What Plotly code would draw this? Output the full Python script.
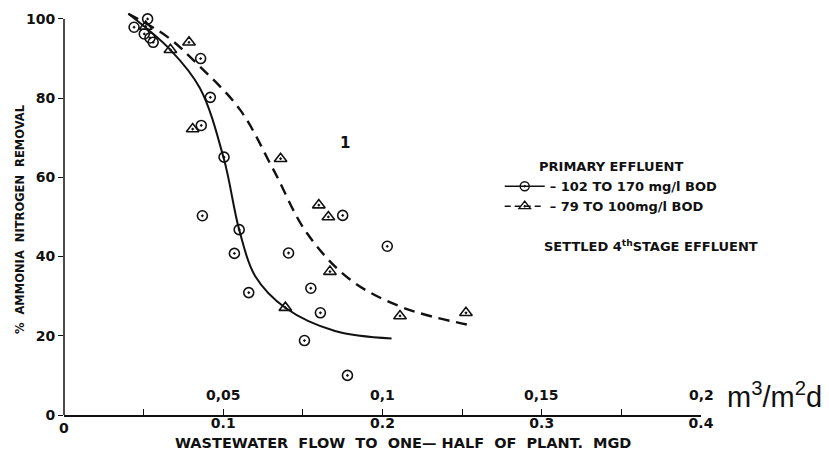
import plotly.graph_objects as go

# ---------------- data ----------------
# Primary effluent 102-170 mg/l BOD (circles)
circ_x = [0.0525, 0.044, 0.0504, 0.054, 0.056, 0.0858, 0.0919, 0.0862, 0.1005,
          0.0869, 0.175, 0.110, 0.107, 0.141, 0.203, 0.116, 0.155, 0.161, 0.151, 0.178]
circ_y = [100.0, 97.9, 96.2, 95.2, 94.1, 90.0, 80.2, 73.1, 65.1,
          50.3, 50.4, 46.8, 40.8, 40.9, 42.6, 30.9, 32.0, 25.8, 18.8, 10.0]

# Primary effluent 79-100 mg/l BOD (triangles)
tri_x = [0.0513, 0.0668, 0.0785, 0.0808, 0.136, 0.160, 0.166, 0.167, 0.139, 0.211, 0.2524]
tri_y = [98.1, 92.2, 94.1, 72.2, 64.7, 53.0, 50.0, 36.2, 27.1, 25.0, 25.8]

# fitted curves
solid_x = [0.0404, 0.0668, 0.0854, 0.1005, 0.110, 0.120, 0.1392, 0.1702, 0.2057]
solid_y = [101.3, 92.2, 82.5, 64.5, 46.8, 35.1, 27.0, 21.2, 19.3]

dash_x = [0.0404, 0.0645, 0.083, 0.1105, 0.1314, 0.1524, 0.1796, 0.213, 0.256]
dash_y = [101.3, 95.6, 88.9, 77.1, 62.0, 46.0, 34.2, 27.1, 22.6]

# axis ticks
x_tick_vals = [0.1, 0.2, 0.3, 0.4]
x_tick_text = ["0.1", "0.2", "0.3", "0.4"]
x_minor_step = 0.05
x_zero_label = "0"
y_tick_vals = [0, 20, 40, 60, 80, 100]
y_tick_text = ["0", "20", "40", "60", "80", "100"]

# secondary scale (m3/m2d) labels placed at MGD positions
m3_pos = [0.1, 0.2, 0.3, 0.4]
m3_text = ["0,05", "0,1", "0,15", "0,2"]

FONT = "DejaVu Sans"
BLACK = "#111111"

fig = go.Figure()

fig.add_trace(go.Scatter(x=solid_x, y=solid_y, mode="lines", line_shape="spline",
                         line=dict(color=BLACK, width=2, smoothing=1.0), showlegend=False,
                         hoverinfo="skip"))
fig.add_trace(go.Scatter(x=dash_x, y=dash_y, mode="lines", line_shape="spline",
                         line=dict(color=BLACK, width=2.4, dash="11px,7px", smoothing=1.0),
                         showlegend=False, hoverinfo="skip"))
fig.add_trace(go.Scatter(x=circ_x, y=circ_y, mode="markers",
                         marker=dict(symbol="circle-open-dot", size=10, color=BLACK,
                                     line=dict(width=1.6, color=BLACK)),
                         showlegend=False))
fig.add_trace(go.Scatter(x=tri_x, y=tri_y, mode="markers",
                         marker=dict(symbol="triangle-up-open-dot", size=11, color=BLACK,
                                     line=dict(width=1.6, color=BLACK)),
                         showlegend=False))

# legend entries
fig.add_trace(go.Scatter(x=[None], y=[None], mode="lines+markers",
                         name="<b>– 102 TO 170 mg/l BOD</b>",
                         line=dict(color=BLACK, width=1.5),
                         marker=dict(symbol="circle-open-dot", size=9, color=BLACK,
                                     line=dict(width=1.4, color=BLACK))))
fig.add_trace(go.Scatter(x=[None], y=[None], mode="lines+markers",
                         name="<b>– 79 TO 100mg/l BOD</b>",
                         line=dict(color=BLACK, width=1.5, dash="6px,4px"),
                         marker=dict(symbol="triangle-up-open-dot", size=10, color=BLACK,
                                     line=dict(width=1.4, color=BLACK))))

annotations = []
for p, t in zip(m3_pos, m3_text):
    annotations.append(dict(x=p, y=5, xref="x", yref="y", text=f"<b>{t}</b>",
                            showarrow=False, xanchor="center", yanchor="middle",
                            font=dict(family=FONT, size=14, color=BLACK)))
annotations += [
    dict(x=1.193, y=0.05, xref="paper", yref="paper",
         text="m<sup>3</sup>/m<sup>2</sup>d", showarrow=False,
         xanchor="right", yanchor="middle",
         font=dict(family="Liberation Sans", size=29, color=BLACK)),
    dict(x=0.0, y=-0.008, xref="paper", yref="paper", text=f"<b>{x_zero_label}</b>",
         showarrow=False, xanchor="center", yanchor="top",
         font=dict(family=FONT, size=14, color=BLACK)),
    dict(x=0.532, y=-0.069, xref="paper", yref="paper",
         text="<b>WASTEWATER&nbsp; FLOW&nbsp; TO&nbsp; ONE—&nbsp;HALF&nbsp; OF&nbsp; PLANT.&nbsp; MGD</b>",
         showarrow=False, xanchor="center", yanchor="middle",
         font=dict(family=FONT, size=14.5, color=BLACK)),
    dict(x=-0.069, y=0.485, xref="paper", yref="paper",
         text="<b>%&nbsp; AMMONIA&nbsp; NITROGEN&nbsp; REMOVAL</b>",
         textangle=-90, showarrow=False, xanchor="center", yanchor="middle",
         font=dict(family=FONT, size=11.5, color=BLACK)),
    dict(x=0.441, y=0.674, xref="paper", yref="paper", text="<b>1</b>",
         showarrow=False, xanchor="center", yanchor="middle",
         font=dict(family=FONT, size=15, color=BLACK)),
    dict(x=0.9215, y=0.418, xref="paper", yref="paper",
         text="<b>SETTLED 4<sup>th</sup>STAGE EFFLUENT</b>",
         showarrow=False, xanchor="center", yanchor="middle",
         font=dict(family=FONT, size=13, color=BLACK)),
]

fig.update_layout(
    width=821, height=451,
    margin=dict(l=56, r=128, t=3, b=44),
    paper_bgcolor="white", plot_bgcolor="white",
    font=dict(family=FONT, color=BLACK),
    showlegend=True,
    legend=dict(x=0.684, y=0.645, xanchor="left", yanchor="top",
                bgcolor="rgba(0,0,0,0)", borderwidth=0,
                title=dict(text="<b>PRIMARY EFFLUENT</b>", side="top center",
                           font=dict(family=FONT, size=13, color=BLACK)),
                font=dict(family=FONT, size=13, color=BLACK),
                tracegroupgap=0, itemwidth=40),
    xaxis=dict(range=[0, 0.4], showgrid=False, zeroline=False,
               showline=True, linecolor=BLACK, linewidth=1.5,
               ticks="inside", ticklen=6, tickwidth=1.3, tickcolor=BLACK,
               tickvals=x_tick_vals,
               ticktext=[f"<b>{t}</b>" for t in x_tick_text],
               ticklabelstandoff=-6,
               minor=dict(ticks="inside", ticklen=6, tickwidth=1.3, tickcolor=BLACK,
                          dtick=x_minor_step, tick0=0, showgrid=False),
               tickfont=dict(family=FONT, size=14, color=BLACK)),
    yaxis=dict(range=[0, 102], showgrid=False, zeroline=False, showline=False,
               ticks="outside", ticklen=5, tickwidth=1.3, tickcolor=BLACK,
               tickvals=y_tick_vals, ticktext=[f"<b>{t}</b>" for t in y_tick_text],
               tickfont=dict(family=FONT, size=14, color=BLACK)),
    annotations=annotations,
    shapes=[dict(type="line", xref="paper", yref="y", x0=0, x1=0, y0=0, y1=100,
                 line=dict(color=BLACK, width=1.5))],
)

fig.write_html("out.html")
